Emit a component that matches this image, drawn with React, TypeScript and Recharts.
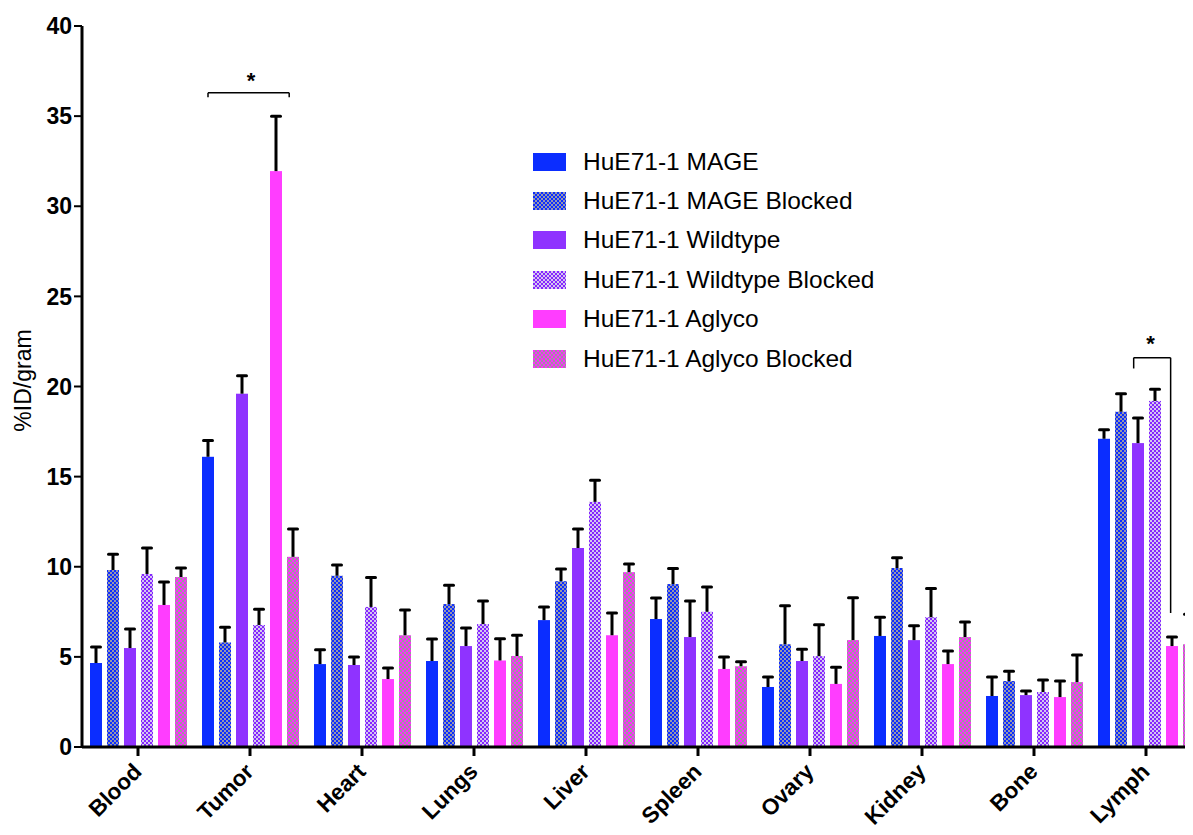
import { BarChart, Bar, XAxis, YAxis, Legend, ReferenceLine, ReferenceDot } from 'recharts';

const organs = ['Blood', 'Tumor', 'Heart', 'Lungs', 'Liver', 'Spleen', 'Ovary', 'Kidney', 'Bone', 'Lymph'];

const mage = [4.66, 16.1, 4.6, 4.77, 7.04, 7.1, 3.33, 6.16, 2.83, 17.1];
const mageErr = [0.89, 0.9, 0.8, 1.22, 0.73, 1.16, 0.55, 1.04, 1.05, 0.5];
const mageBlocked = [9.82, 5.8, 9.5, 7.93, 9.2, 9.04, 5.7, 9.93, 3.66, 18.6];
const mageBlockedErr = [0.88, 0.85, 0.6, 1.05, 0.67, 0.86, 2.13, 0.57, 0.54, 1.0];
const wildtype = [5.49, 19.6, 4.55, 5.6, 11.04, 6.1, 4.77, 5.93, 2.88, 16.86];
const wildtypeErr = [1.05, 1.0, 0.45, 1.0, 1.06, 2.0, 0.65, 0.8, 0.22, 1.39];
const wildtypeBlocked = [9.6, 6.77, 7.77, 6.82, 13.6, 7.5, 5.04, 7.2, 3.05, 19.2];
const wildtypeBlockedErr = [1.44, 0.87, 1.63, 1.28, 1.2, 1.37, 1.74, 1.6, 0.67, 0.65];
const aglyco = [7.88, 31.95, 3.77, 4.8, 6.2, 4.33, 3.5, 4.6, 2.77, 5.6];
const aglycoErr = [1.27, 3.05, 0.61, 1.2, 1.23, 0.66, 0.93, 0.73, 0.89, 0.5];
const aglycoBlocked = [9.43, 10.55, 6.2, 5.05, 9.7, 4.48, 5.93, 6.1, 3.6, 5.7];
const aglycoBlockedErr = [0.5, 1.55, 1.4, 1.15, 0.45, 0.25, 2.35, 0.83, 1.5, 1.67];

const yTicks = [0, 5, 10, 15, 20, 25, 30, 35, 40];

// significance brackets, in (category slot, %ID/gram) units; slot k spans [k, k+1]
const brackets = [
  [{ x: 1.125, y: 36.05 }, { x: 1.125, y: 36.3 }, { x: 1.85, y: 36.3 }, { x: 1.85, y: 36.05 }],
  [{ x: 9.39, y: 21.0 }, { x: 9.39, y: 21.6 }, { x: 9.72, y: 21.6 }, { x: 9.72, y: 7.43 }],
];
const stars = [{ x: 1.51, y: 37.0 }, { x: 9.54, y: 22.4 }];

const data = organs.map((organ, i) => ({
  organ,
  slot: i + 0.5,
  mage: mage[i],
  mageErr: mageErr[i],
  mageBlocked: mageBlocked[i],
  mageBlockedErr: mageBlockedErr[i],
  wildtype: wildtype[i],
  wildtypeErr: wildtypeErr[i],
  wildtypeBlocked: wildtypeBlocked[i],
  wildtypeBlockedErr: wildtypeBlockedErr[i],
  aglyco: aglyco[i],
  aglycoErr: aglycoErr[i],
  aglycoBlocked: aglycoBlocked[i],
  aglycoBlockedErr: aglycoBlockedErr[i],
}));

const series = [
  { key: 'mage', name: 'HuE71-1 MAGE', fill: '#0b2dff' },
  { key: 'mageBlocked', name: 'HuE71-1 MAGE Blocked', fill: 'url(#chkBlue)' },
  { key: 'wildtype', name: 'HuE71-1 Wildtype', fill: '#8f33ff' },
  { key: 'wildtypeBlocked', name: 'HuE71-1 Wildtype Blocked', fill: 'url(#chkPurple)' },
  { key: 'aglyco', name: 'HuE71-1 Aglyco', fill: '#ff3dff' },
  { key: 'aglycoBlocked', name: 'HuE71-1 Aglyco Blocked', fill: 'url(#chkPink)' },
];

const FONT = '"Liberation Sans", Arial, Helvetica, sans-serif';

const makeShape = (dataKey: string) => (props: any) => {
  const { x, y, width, height, fill, payload } = props;
  const value = payload[dataKey];
  const err = payload[dataKey + 'Err'];
  const unit = value ? height / value : 0;
  const top = y - err * unit;
  const cx = x + width / 2;
  return (
    <g>
      <rect x={x} y={y} width={width} height={height} fill={fill} />
      <line x1={cx} x2={cx} y1={y} y2={top} stroke="#000" strokeWidth={3} />
      <line x1={cx - 4.5} x2={cx + 4.5} y1={top} y2={top} stroke="#000" strokeWidth={3} strokeLinecap="round" />
    </g>
  );
};

const XTick = ({ x, y, payload }: any) => (
  <g transform={`translate(${x},${y})`}>
    <text
      transform="translate(5,14) rotate(-45)"
      textAnchor="end"
      fill="#000"
      fontFamily={FONT}
      fontWeight="bold"
      fontSize={22.5}
    >
      {payload.value}
    </text>
  </g>
);

const renderLegend = (props: any) => {
  const order = series.map((s) => s.name);
  const payload = [...(props.payload || [])].sort(
    (a: any, b: any) => order.indexOf(a.value) - order.indexOf(b.value)
  );
  return (
    <div style={{ fontFamily: FONT, fontSize: 24.5, color: '#000' }}>
      {payload.map((entry: any) => (
        <div key={entry.value} style={{ display: 'flex', alignItems: 'center', height: 39.4 }}>
          <svg width={33} height={18} style={{ display: 'block' }}>
            <rect width={33} height={18} fill={entry.color} />
          </svg>
          <span style={{ marginLeft: 17, whiteSpace: 'nowrap' }}>{entry.value}</span>
        </div>
      ))}
    </div>
  );
};

const Checker = ({ id, a, b }: { id: string; a: string; b: string }) => (
  <pattern id={id} width={4} height={4} patternUnits="userSpaceOnUse">
    <rect width={4} height={4} fill={b} />
    <rect width={2} height={2} fill={a} />
    <rect x={2} y={2} width={2} height={2} fill={a} />
  </pattern>
);

export default function App() {
  return (
    <div style={{ width: 1185, height: 827, overflow: 'hidden', position: 'relative' }}>
      <svg width={0} height={0} style={{ position: 'absolute' }}>
        <defs>
          <Checker id="chkBlue" a="#0c2cff" b="#9597b0" />
          <Checker id="chkPurple" a="#8526ff" b="#d4c6f0" />
          <Checker id="chkPink" a="#ff2cff" b="#9d959d" />
        </defs>
      </svg>
      <BarChart
        width={1200}
        height={827}
        data={data}
        margin={{ top: 18, right: 6, left: 0, bottom: 0 }}
        barSize={12}
        barGap={5}
      >
        <XAxis
          dataKey="organ"
          height={88}
          axisLine={{ stroke: '#000', strokeWidth: 3 }}
          tickLine={{ stroke: '#000', strokeWidth: 3 }}
          tickSize={9}
          tickMargin={3}
          tick={<XTick />}
          interval={0}
        />
        <XAxis xAxisId="ann" dataKey="slot" type="number" domain={[0, 10]} hide allowDataOverflow />
        <YAxis
          width={74}
          domain={[0, 40]}
          ticks={yTicks}
          interval={0}
          allowDataOverflow
          axisLine={{ stroke: '#000', strokeWidth: 3 }}
          tickLine={{ stroke: '#000', strokeWidth: 2 }}
          tickSize={8}
          tickMargin={2}
          tick={{ fill: '#000', fontSize: 23, fontWeight: 'bold', fontFamily: FONT }}
          label={{
            value: '%ID/gram',
            angle: -90,
            position: 'center',
            dx: -22,
            dy: -6,
            fill: '#000',
            fontSize: 23,
            fontFamily: FONT,
          }}
        />
        <Legend
          layout="vertical"
          align="center"
          verticalAlign="middle"
          content={renderLegend}
          wrapperStyle={{ position: 'absolute', left: 525, top: 134, width: 420, height: 240 }}
        />
        {series.map((s) => (
          <Bar
            key={s.key}
            dataKey={s.key}
            name={s.name}
            fill={s.fill}
            isAnimationActive={false}
            shape={makeShape(s.key)}
          />
        ))}
        {brackets.map((pts, bi) =>
          pts.slice(1).map((p, i) => (
            <ReferenceLine
              key={`b${bi}-${i}`}
              xAxisId="ann"
              segment={[pts[i], p]}
              stroke="#000"
              strokeWidth={1.5}
              ifOverflow="visible"
            />
          ))
        )}
        {stars.map((s, i) => (
          <ReferenceDot
            key={`s${i}`}
            xAxisId="ann"
            x={s.x}
            y={s.y}
            r={0}
            fill="none"
            stroke="none"
            ifOverflow="visible"
            label={{ value: '*', position: 'center', fill: '#000', fontSize: 22, fontWeight: 'bold', fontFamily: FONT }}
          />
        ))}
      </BarChart>
    </div>
  );
}
